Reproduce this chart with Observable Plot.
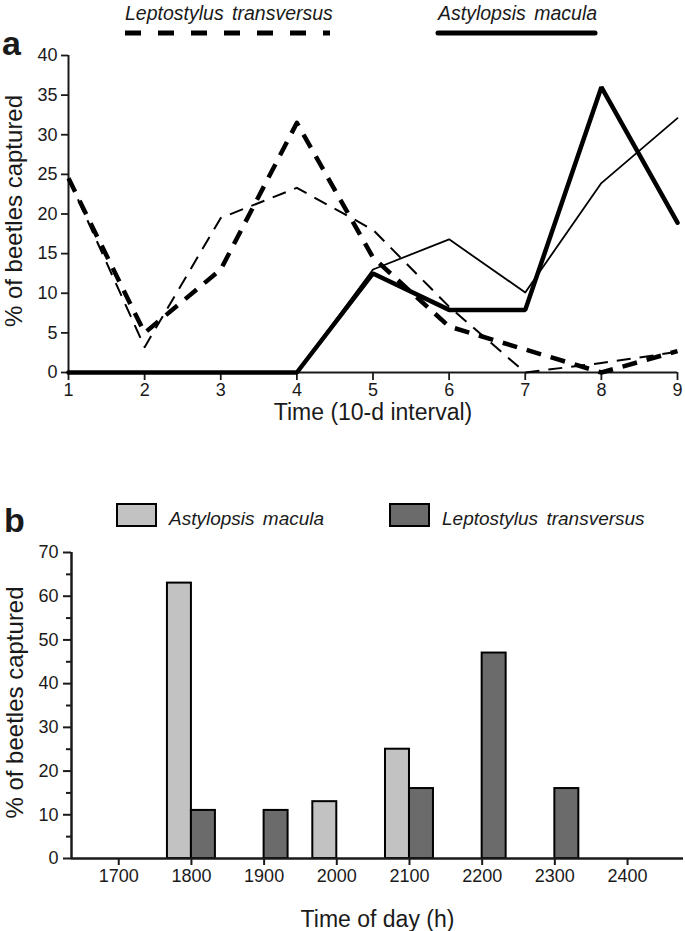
<!DOCTYPE html>
<html><head><meta charset="utf-8">
<script src="https://cdn.jsdelivr.net/npm/d3@7"></script>
<script src="https://cdn.jsdelivr.net/npm/@observablehq/plot@0.6"></script>
<style>
html,body{margin:0;padding:0;background:#fff;}
#page{position:relative;width:685px;height:931px;overflow:hidden;font-family:"Liberation Sans",Arial,sans-serif;color:#1a1a1a;}
#panelA{position:absolute;left:0;top:40px;}
#panelB{position:absolute;left:0;top:536px;}
#overlay{position:absolute;left:0;top:0;pointer-events:none;}
</style></head><body>
<div id="page"><div id="panelA"></div><div id="panelB"></div><svg id="overlay" width="685" height="931"></svg></div>
<script>
// ---------- data ----------
const speciesNames = ["Astylopsis macula", "Leptostylus transversus"];
const intervals = [1, 2, 3, 4, 5, 6, 7, 8, 9];
const lepThick = [24.5, 5, 13, 31.5, 14.5, 5.8, 2.9, 0, 2.7];
const lepThin  = [24.5, 3.2, 19.5, 23.3, 18, 8.3, 0, 1.2, 2.6];
const astThick = [0, 0, 0, 0, 12.5, 7.9, 7.9, 36, 18.9];
const astThin  = [0, 0, 0, 0, 13, 16.8, 10.1, 23.9, 32.1];
const yTicksA = [0, 5, 10, 15, 20, 25, 30, 35, 40];

const hours = [1700, 1800, 1900, 2000, 2100, 2200, 2300, 2400];
const astHour = [0, 63, 0, 13, 25, 0, 0, 0];
const lepHour = [0, 11, 11, 0, 16, 47, 16, 0];
const yTicksB = [0, 10, 20, 30, 40, 50, 60, 70];
const yMinorB = [5, 15, 25, 35, 45, 55, 65];

// ---------- panel a ----------
const lineRows = intervals.flatMap((t, i) => [
  {t, v: lepThick[i], s: "lepThick"},
  {t, v: lepThin[i], s: "lepThin"},
  {t, v: astThick[i], s: "astThick"},
  {t, v: astThin[i], s: "astThin"}
]);
const sel = s => lineRows.filter(d => d.s === s);
const font = "Liberation Sans, Arial, sans-serif";
const ink = "#1a1a1a";
const tickFont = 18;

const plotA = Plot.plot({
  width: 685, height: 390,
  marginTop: 15, marginBottom: 58, marginLeft: 68, marginRight: 8,
  style: {fontFamily: font, fontSize: "18px", color: ink, background: "transparent", overflow: "visible"},
  x: {domain: [intervals[0], intervals[intervals.length - 1]]},
  y: {domain: [yTicksA[0], yTicksA[yTicksA.length - 1]]},
  marks: [
    Plot.axisX({ticks: intervals, tickSize: 8, tickPadding: 3, strokeWidth: 1.8, label: null, fontSize: tickFont, tickFormat: d => String(d)}),
    Plot.axisY({ticks: yTicksA, tickSize: 7, tickPadding: 4, strokeWidth: 1.8, label: null, fontSize: tickFont}),
    Plot.ruleX([intervals[0]], {strokeWidth: 2, stroke: ink}),
    Plot.ruleY([0], {strokeWidth: 2, stroke: ink}),
    Plot.line(sel("lepThin"), {x: "t", y: "v", stroke: "black", strokeWidth: 2, strokeDasharray: "14,9", strokeLinecap: "butt"}),
    Plot.line(sel("astThin"), {x: "t", y: "v", stroke: "black", strokeWidth: 1.8}),
    Plot.line(sel("lepThick"), {x: "t", y: "v", stroke: "black", strokeWidth: 4.5, strokeDasharray: "15,10", strokeLinecap: "butt"}),
    Plot.line(sel("astThick"), {x: "t", y: "v", stroke: "black", strokeWidth: 4.5, strokeLinejoin: "miter"}),
    Plot.text(["Time (10-d interval)"], {text: d => d, frameAnchor: "bottom", textAnchor: "middle", dy: 47, lineAnchor: "bottom", fontSize: 23, fill: ink}),
    Plot.text(["% of beetles captured"], {text: d => d, frameAnchor: "left", textAnchor: "middle", rotate: -90, dx: -47, dy: -3, lineAnchor: "bottom", fontSize: 24, fill: ink})
  ]
});
document.getElementById("panelA").appendChild(plotA);

// ---------- panel b ----------
const barSpan = 33;
const xDomainB = [1635, 2477];
const barRows = hours.flatMap((h, i) => [
  {h, v: astHour[i], sp: speciesNames[0]},
  {h, v: lepHour[i], sp: speciesNames[1]}
]).filter(d => d.v > 0);

const plotB = Plot.plot({
  width: 685, height: 395,
  marginTop: 16, marginBottom: 73, marginLeft: 71, marginRight: 2,
  style: {fontFamily: font, fontSize: "18px", color: ink, background: "transparent", overflow: "visible"},
  x: {domain: xDomainB},
  y: {domain: [yTicksB[0], yTicksB[yTicksB.length - 1]]},
  color: {domain: speciesNames, range: ["#c2c2c2", "#6b6b6b"]},
  marks: [
    Plot.rect(barRows, {
      x1: d => d.sp === speciesNames[0] ? d.h - barSpan : d.h,
      x2: d => d.sp === speciesNames[0] ? d.h : d.h + barSpan,
      y1: 0, y2: "v", fill: "sp", stroke: "black", strokeWidth: 2
    }),
    Plot.axisX({ticks: hours, tickSize: 7, tickPadding: 4, strokeWidth: 2, label: null, fontSize: tickFont, tickFormat: d => String(d)}),
    Plot.axisY({ticks: yTicksB, tickSize: 8, tickPadding: 5, strokeWidth: 2, label: null, fontSize: tickFont}),
    Plot.axisY({ticks: yMinorB, tickSize: 5, strokeWidth: 2, label: null, text: null}),
    Plot.ruleX([xDomainB[0]], {strokeWidth: 2.5, stroke: ink}),
    Plot.ruleY([0], {strokeWidth: 2.5, stroke: ink}),
    Plot.text(["Time of day (h)"], {text: d => d, frameAnchor: "bottom", textAnchor: "middle", dy: 68, lineAnchor: "bottom", fontSize: 23, fill: ink}),
    Plot.text(["% of beetles captured"], {text: d => d, frameAnchor: "left", textAnchor: "middle", rotate: -90, dx: -49, dy: -3, lineAnchor: "bottom", fontSize: 24, fill: ink})
  ]
});
document.getElementById("panelB").appendChild(plotB);

// ---------- labels & legends ----------
const ov = d3.select("#overlay").style("font-family", font);
ov.append("text").attr("x", 2).attr("y", 55).attr("font-size", 34).attr("font-weight", "bold").attr("fill", ink).text("a");
ov.append("text").attr("x", 4).attr("y", 532).attr("font-size", 34).attr("font-weight", "bold").attr("fill", ink).text("b");

// panel a legend
const legA = [
  {name: speciesNames[1], x: 125, x2: 330, dash: "16,17"},
  {name: speciesNames[0], x: 438, x2: 595, dash: null}
];
legA.forEach(l => {
  ov.append("text").attr("x", l.x).attr("y", 20).attr("font-size", 19.5).attr("font-style", "italic")
    .attr("word-spacing", 3).attr("fill", ink).text(l.name);
  const ln = ov.append("line").attr("x1", l.x).attr("x2", l.x2).attr("y1", 33).attr("y2", 33)
    .attr("stroke", "black").attr("stroke-width", 5);
  if (l.dash) ln.attr("stroke-dasharray", l.dash); else ln.attr("stroke-linecap", "round");
});

// panel b legend
const legB = [
  {name: speciesNames[0], x: 117, fill: "#c2c2c2"},
  {name: speciesNames[1], x: 390, fill: "#6b6b6b"}
];
legB.forEach(l => {
  ov.append("rect").attr("x", l.x).attr("y", 504).attr("width", 39).attr("height", 22)
    .attr("fill", l.fill).attr("stroke", "black").attr("stroke-width", 2);
  ov.append("text").attr("x", l.x + 52).attr("y", 525).attr("font-size", 19).attr("font-style", "italic")
    .attr("word-spacing", 3).attr("fill", ink).text(l.name);
});
</script>
</body></html>
